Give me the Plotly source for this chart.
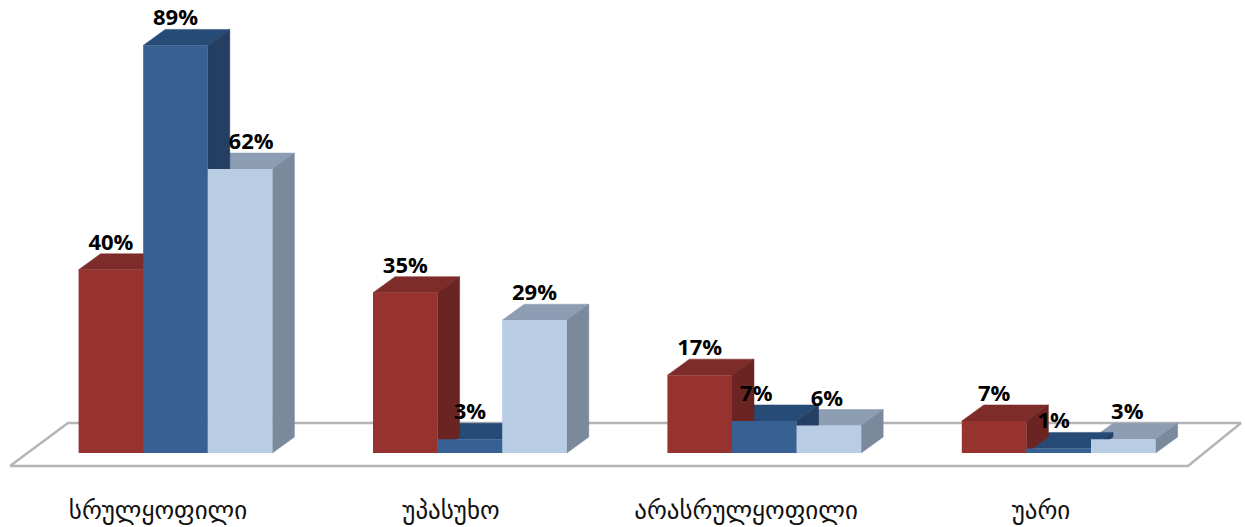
import plotly.graph_objects as go

categories = ["სრულყოფილი", "უპასუხო", "არასრულყოფილი", "უარი"]
series_a = [40, 35, 17, 7]
series_b = [89, 3, 7, 1]
series_c = [62, 29, 6, 3]

W, H = 1245, 527
BOTTOM = 34
UNIT_X = 294.4
UNIT_Y = 4.58
X0, Y0 = 175.5, 453
BAR = 64.6 / UNIT_X
DX, DY = 22 / UNIT_X, 16 / UNIT_Y

xr = [-X0 / UNIT_X, (W - X0) / UNIT_X]
yr = [-(H - BOTTOM - Y0) / UNIT_Y, Y0 / UNIT_Y]

styles = [
    ("#96332f", "#7d2c29", "#6a2522", series_a),
    ("#376193", "#264b76", "#253f63", series_b),
    ("#b8cce4", "#8c9db4", "#7a899c", series_c),
]

def px_x(p):
    return (p - X0) / UNIT_X

def px_y(p):
    return (Y0 - p) / UNIT_Y

fig = go.Figure()

# floor of the 3-D scene
fig.add_trace(go.Scatter(
    x=[px_x(10), px_x(1188), px_x(1241), px_x(68), px_x(10)],
    y=[px_y(466), px_y(466), px_y(423), px_y(423), px_y(466)],
    mode="lines", fill="toself", fillcolor="#ffffff",
    line=dict(color="#b5b5b5", width=2.5), hoverinfo="skip", showlegend=False))

# depth faces, right to left so that a taller left neighbour hides its neighbour's top
for g in range(len(categories) - 1, -1, -1):
    for s in range(2, -1, -1):
        front, top, side, vals = styles[s]
        v = vals[g]
        left = g + (s - 1) * BAR - BAR / 2
        right = left + BAR
        fig.add_trace(go.Scatter(
            x=[left, right, right + DX, left + DX, left],
            y=[v, v, v + DY, v + DY, v],
            mode="lines", fill="toself", fillcolor=top,
            line=dict(color=top, width=0.5), hoverinfo="skip", showlegend=False))
        fig.add_trace(go.Scatter(
            x=[right, right + DX, right + DX, right, right],
            y=[0, DY, v + DY, v, 0],
            mode="lines", fill="toself", fillcolor=side,
            line=dict(color=side, width=0.5), hoverinfo="skip", showlegend=False))

xs = list(range(len(categories)))
for front, top, side, vals in styles:
    fig.add_trace(go.Bar(x=xs, y=vals, marker=dict(color=front, line=dict(width=0)),
                         xaxis="x2", yaxis="y2", showlegend=False))

LABEL_UP = 25.5 / UNIT_Y
# sideways shift of the value labels, in pixels, per series and category
label_shift = [[0, 0, 0, 0], [0, 0, -8, -5], [11, 0, -2, 4]]
for s, (front, top, side, vals) in enumerate(styles):
    fig.add_trace(go.Scatter(
        x=[g + (s - 1) * BAR + label_shift[s][g] / UNIT_X for g in xs],
        y=[v + LABEL_UP for v in vals],
        text=[f"{v}%" for v in vals],
        mode="text", textposition="middle center",
        textfont=dict(family="Open Sans", size=22, color="#000000", weight="bold"),
        xaxis="x2", yaxis="y2", hoverinfo="skip", showlegend=False))

# the category captions sit left of their groups in the reference
caption_x = [px_x(p) for p in (158, 451, 746, 1041)]

fig.update_layout(
    width=W, height=H,
    margin=dict(l=0, r=0, t=0, b=BOTTOM, pad=0),
    paper_bgcolor="#ffffff", plot_bgcolor="#ffffff",
    barmode="group", bargap=1 - 3 * BAR, bargroupgap=0,
    showlegend=False,
    xaxis=dict(range=xr, tickvals=caption_x, ticktext=categories, showgrid=False, zeroline=False,
               showline=False, ticks="", tickangle=0, automargin=False,
               tickfont=dict(family="DejaVu Sans", size=25, color="#111111")),
    yaxis=dict(range=yr, visible=False, automargin=False),
    xaxis2=dict(range=xr, overlaying="x", visible=False),
    yaxis2=dict(range=yr, overlaying="y", visible=False),
)
fig.write_html("out.html", config={"displayModeBar": False},
               post_script="document.body.style.margin='0';")
